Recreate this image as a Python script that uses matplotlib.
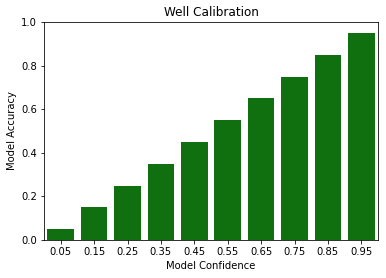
import matplotlib
matplotlib.use("Agg")
import matplotlib.pyplot as plt
import seaborn as sns

confidence = ["0.05", "0.15", "0.25", "0.35", "0.45", "0.55", "0.65", "0.75", "0.85", "0.95"]
accuracy = [0.05, 0.15, 0.25, 0.35, 0.45, 0.55, 0.65, 0.75, 0.85, 0.95]

fig = plt.figure(figsize=(386 / 72, 278 / 72), dpi=72)
ax = fig.add_axes([44 / 386, 1 - 240 / 278, 334 / 386, 218 / 278])

sns.barplot(x=confidence, y=accuracy, color="green", ax=ax)
ax.set_ylim(0, 1)
ax.set_title("Well Calibration")
ax.set_xlabel("Model Confidence")
ax.set_ylabel("Model Accuracy")

fig.savefig("out.png", dpi=72)
